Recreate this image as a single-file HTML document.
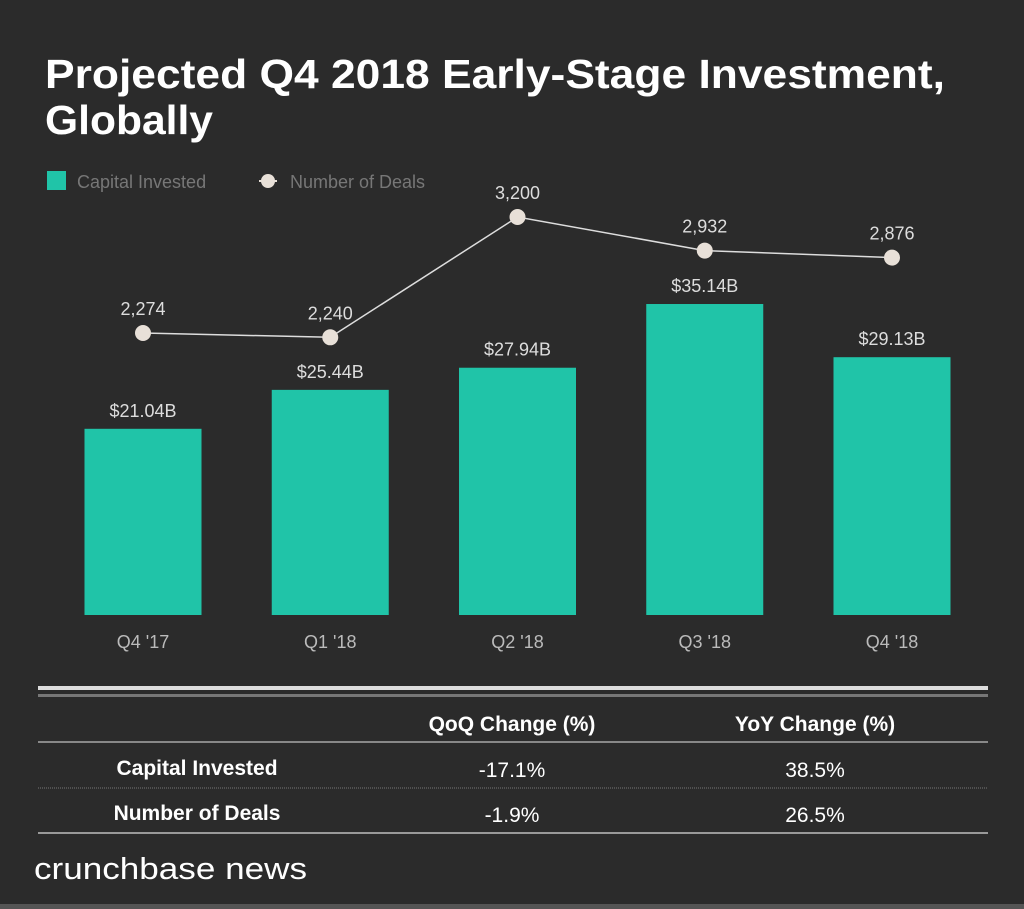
<!DOCTYPE html>
<html><head><meta charset="utf-8"><style>
body{margin:0;background:#2b2b2b;width:1024px;height:909px;overflow:hidden;font-family:"Liberation Sans",sans-serif}
</style></head><body>
<svg width="1024" height="909" id="svg" style="position:absolute;left:0;top:0">
<rect width="1024" height="909" fill="#2b2b2b"/>
<rect y="904" width="1024" height="5" fill="#555"/>
<text x="45" y="88" fill="#fff" font-size="41" font-weight="bold" textLength="900" lengthAdjust="spacingAndGlyphs">Projected Q4 2018 Early-Stage Investment,</text>
<text x="45" y="134" fill="#fff" font-size="41" font-weight="bold" textLength="168" lengthAdjust="spacingAndGlyphs">Globally</text>
<g>
<rect x="47" y="171" width="19" height="19" fill="#20c4a8"/>
<text x="77" y="188" fill="#777" font-size="18">Capital Invested</text>
<line x1="259" y1="181" x2="277" y2="181" stroke="#e8e0d8" stroke-width="2"/>
<circle cx="268" cy="181" r="7" fill="#e8e0d8"/>
<text x="290" y="188" fill="#777" font-size="18">Number of Deals</text>
</g>
<g id="bars"></g><g id="line"></g>
<g>
<rect x="38" y="686" width="950" height="4" fill="#ddd"/>
<rect x="38" y="694" width="950" height="3" fill="#777"/>
<line x1="38" y1="742" x2="988" y2="742" stroke="#888" stroke-width="2"/>
<line x1="38" y1="788" x2="988" y2="788" stroke="#777" stroke-width="1" stroke-dasharray="1,1"/>
<line x1="38" y1="833" x2="988" y2="833" stroke="#999" stroke-width="2"/>
<g fill="#fff" font-size="21" text-anchor="middle">
<text x="512" y="731" font-weight="bold">QoQ Change (%)</text>
<text x="815" y="731" font-weight="bold">YoY Change (%)</text>
<text x="197" y="775" font-weight="bold">Capital Invested</text>
<text x="512" y="777">-17.1%</text>
<text x="815" y="777">38.5%</text>
<text x="197" y="820" font-weight="bold">Number of Deals</text>
<text x="512" y="822">-1.9%</text>
<text x="815" y="822">26.5%</text>
</g></g>
<text x="34" y="879" fill="#fff" font-size="31" textLength="273" lengthAdjust="spacingAndGlyphs">crunchbase news</text>
</svg>
<script>
const categories=["Q4 '17","Q1 '18","Q2 '18","Q3 '18","Q4 '18"];
const capital=[21.04,25.44,27.94,35.14,29.13];
const deals=[2274,2240,3200,2932,2876];
const NS="http://www.w3.org/2000/svg";
const xC=i=>143+i*187.25;
const yBar=v=>615-v*8.85;
const yDeal=v=>217+(3200-v)*0.1253;
function mk(t,a,p){const e=document.createElementNS(NS,t);for(const k in a)e.setAttribute(k,a[k]);p.appendChild(e);return e;}
const gb=document.getElementById('bars'),gl=document.getElementById('line');
categories.forEach((c,i)=>{
const r=mk('rect',{x:xC(i)-58.5,y:yBar(capital[i]),width:117,height:615-yBar(capital[i]),fill:'#20c4a8'},gb);


const t=mk('text',{x:xC(i),y:yBar(capital[i])-12,fill:'#ddd','font-size':18,'text-anchor':'middle'},gb);t.textContent='$'+capital[i].toFixed(2)+'B';


const l=mk('text',{x:xC(i),y:648,fill:'#bbb','font-size':18,'text-anchor':'middle'},gb);l.textContent=c;


});
const pts=deals.map((d,i)=>xC(i)+','+yDeal(d)).join(' ');
const pl=mk('polyline',{points:pts,fill:'none',stroke:'#ddd','stroke-width':1.5},gl);


deals.forEach((d,i)=>{
const c=mk('circle',{cx:xC(i),cy:yDeal(d),r:8,fill:'#e8e0d8'},gl);


const t=mk('text',{x:xC(i),y:yDeal(d)-18,fill:'#ddd','font-size':18,'text-anchor':'middle'},gl);t.textContent=d.toLocaleString('en-US');


});
</script>
</body></html>
